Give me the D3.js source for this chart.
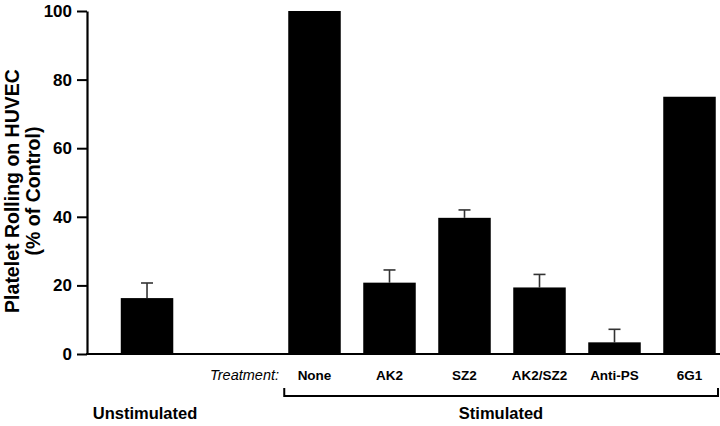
<!DOCTYPE html>
<html><head><meta charset="utf-8">
<script src="https://cdn.jsdelivr.net/npm/d3@7"></script>
<style>body{margin:0;background:#fff}svg{display:block}text{font-family:"Liberation Sans",Arial,sans-serif;font-weight:bold;fill:#000}</style>
</head><body><svg id="c" width="720" height="426"></svg>
<script>
const groupLabel = "Unstimulated";
const groupValue = 16.3;
const groupError = 4.4;
const treatments = ["None", "AK2", "SZ2", "AK2/SZ2", "Anti-PS", "6G1"];
const values = [100, 20.8, 39.7, 19.4, 3.4, 75];
const errors = [0, 3.7, 2.3, 3.8, 3.8, 0];
const yTicks = [0, 20, 40, 60, 80, 100];

const svg = d3.select("#c");
const y = d3.scaleLinear().domain([0, 100]).range([354, 11]);
const x = d3.scaleBand().domain(treatments).range([277, 727]).paddingInner(0.3).paddingOuter(0.15);
const bw = x.bandwidth();
const unstimX = x("None") - 2.233 * x.step();

// axes
const yAxis = d3.axisLeft(y).tickValues(yTicks).tickSize(10).tickSizeOuter(0).tickPadding(5);
const gy = svg.append("g").attr("transform", "translate(87,0)").call(yAxis);
gy.select(".domain").attr("stroke", "#000").attr("stroke-width", 2.2);
gy.selectAll(".tick line").attr("stroke", "#000").attr("stroke-width", 2);
gy.selectAll(".tick text").style("font-size", "17px").style("font-family", '"Liberation Sans",Arial,sans-serif').style("font-weight", "bold").attr("fill", "#000");
svg.append("line").attr("x1", 86).attr("x2", 720).attr("y1", y(0)).attr("y2", y(0)).attr("stroke", "#000").attr("stroke-width", 2.2);

// y label
const yl = svg.append("text").attr("transform", "translate(19,191) rotate(-90)").attr("text-anchor", "middle").style("font-size", "19.5px");
yl.append("tspan").attr("x", 0).attr("dy", 0).text("Platelet Rolling on HUVEC");
yl.append("tspan").attr("x", 0).attr("dy", 21).text("(% of Control)");

// bars
const data = [{x: unstimX, v: groupValue, e: groupError}].concat(treatments.map((t, i) => ({x: x(t), v: values[i], e: errors[i]})));
data.forEach(d => {
  if (d.e > 0) {
    const cx = d.x + bw / 2;
    svg.append("line").attr("x1", cx).attr("x2", cx).attr("y1", y(d.v)).attr("y2", y(d.v + d.e)).attr("stroke", "#333").attr("stroke-width", 1.6);
    svg.append("line").attr("x1", cx - 6).attr("x2", cx + 6).attr("y1", y(d.v + d.e)).attr("y2", y(d.v + d.e)).attr("stroke", "#333").attr("stroke-width", 1.6);
  }
  svg.append("rect").attr("x", d.x).attr("y", y(d.v)).attr("width", bw).attr("height", y(0) - y(d.v)).attr("fill", "#000");
});

// category labels
treatments.forEach(t => {
  svg.append("text").attr("x", x(t) + bw / 2).attr("y", 380).attr("text-anchor", "middle").style("font-size", "13.5px").text(t);
});
svg.append("text").attr("x", 279).attr("y", 380).attr("text-anchor", "end").style("font-size", "14.5px").style("font-style", "italic").style("font-weight", "normal").text("Treatment:");

// bracket
svg.append("path").attr("d", `M${x("None") - 4},388 V396 H718 V388`).attr("fill", "none").attr("stroke", "#000").attr("stroke-width", 2);
svg.append("text").attr("x", unstimX + bw / 2 - 2).attr("y", 419).attr("text-anchor", "middle").style("font-size", "16.5px").text(groupLabel);
svg.append("text").attr("x", 501).attr("y", 419).attr("text-anchor", "middle").style("font-size", "16.5px").text("Stimulated");
</script></body></html>
